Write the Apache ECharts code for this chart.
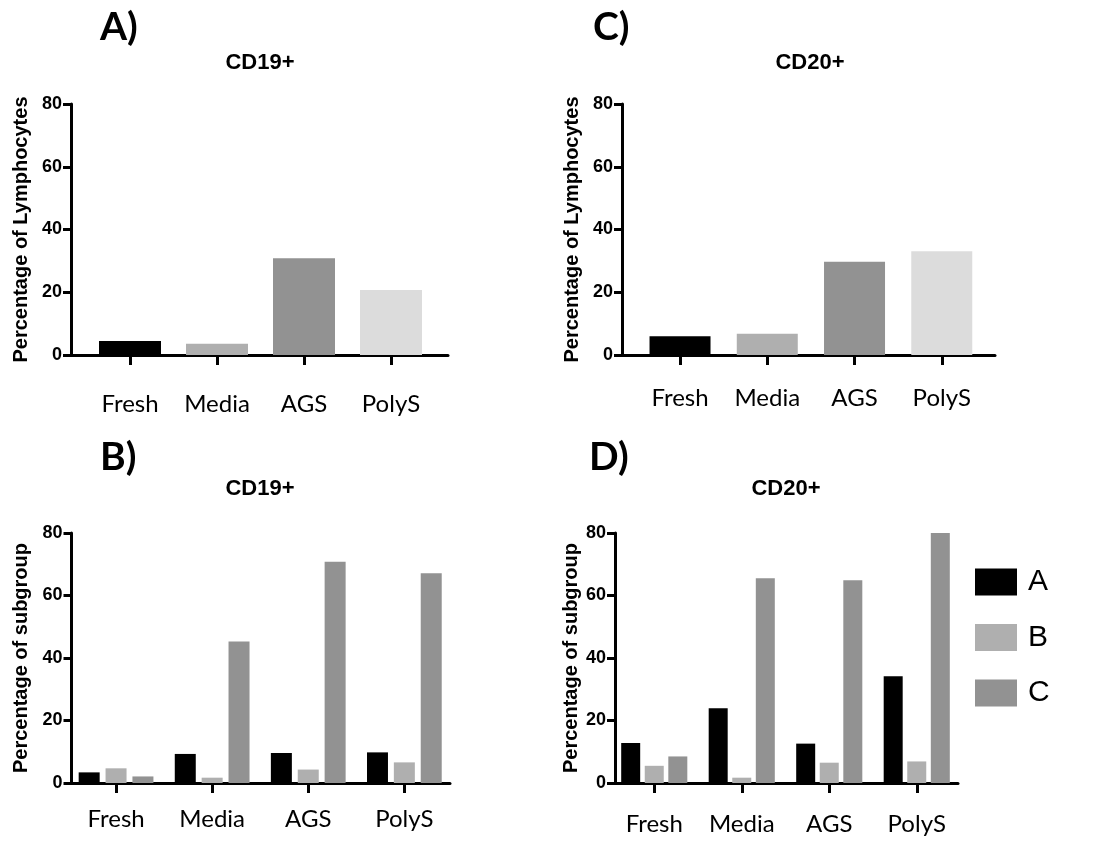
<!DOCTYPE html>
<html>
<head>
<meta charset="utf-8">
<script src="https://cdn.jsdelivr.net/npm/echarts@6/dist/echarts.min.js"></script>
<style>
html,body{margin:0;padding:0;background:#fff;}
#chart{width:1115px;height:842px;}
</style>
</head>
<body>
<div id="chart"></div>
<script>
// ---- data ----
var categories = ['Fresh', 'Media', 'AGS', 'PolyS'];
var cd19Lymph = [4.5, 3.6, 30.8, 20.7];
var cd20Lymph = [6.0, 6.8, 29.7, 33.1];
var cd19A = [3.4, 9.3, 9.6, 9.8];
var cd19B = [4.7, 1.7, 4.3, 6.6];
var cd19C = [2.1, 45.3, 70.8, 67.1];
var cd20A = [12.8, 23.9, 12.6, 34.2];
var cd20B = [5.5, 1.7, 6.5, 6.9];
var cd20C = [8.5, 65.5, 64.9, 80.0];
var groupNames = ['A', 'B', 'C'];
var yMin = 0, yMax = 80, yStep = 20;

// ---- styles ----
var catColors = ['#000000', '#afafaf', '#929292', '#dcdcdc'];
var groupColors = ['#000000', '#afafaf', '#929292'];
var BOLD = '"Liberation Sans", Arial, sans-serif';
var HUM = 'Lato, "Open Sans", sans-serif';

var panels = [
  {letter: 'A)', lx: 100, ly: 8, title: 'CD19+', tx: 260, ty: 52,
   fl: 71, ft: 104, fw: 377, fh: 251, bl: 86.5, bw: 348,
   name: 'Percentage of Lymphocytes', nameGap: 40, labelMargin: 37,
   single: cd19Lymph, barWidth: 62},
  {letter: 'C)', lx: 593, ly: 8, title: 'CD20+', tx: 810, ty: 52,
   fl: 622, ft: 104, fw: 373, fh: 251, bl: 636.4, bw: 349,
   name: 'Percentage of Lymphocytes', nameGap: 40, labelMargin: 31,
   single: cd20Lymph, barWidth: 61},
  {letter: 'B)', lx: 100, ly: 438, title: 'CD19+', tx: 260, ty: 478,
   fl: 71.5, ft: 533, fw: 378.5, fh: 250, bl: 68, bw: 384.4,
   name: 'Percentage of subgroup', nameGap: 40, labelMargin: 24,
   groups: [cd19A, cd19B, cd19C], barWidth: 21, barGap: '28%'},
  {letter: 'D)', lx: 589, ly: 438, title: 'CD20+', tx: 786, ty: 478,
   fl: 615, ft: 533, fw: 343, fh: 250, bl: 610.5, bw: 350,
   name: 'Percentage of subgroup', nameGap: 34, labelMargin: 29,
   groups: [cd20A, cd20B, cd20C], barWidth: 19, barGap: '24%'}
];

var grid = [], xAxis = [], yAxis = [], series = [], title = [];
panels.forEach(function (p, i) {
  var fg = 2 * i, bg = 2 * i + 1;
  grid.push({left: p.fl, top: p.ft, width: p.fw, height: p.fh, containLabel: false});
  grid.push({left: p.bl, top: p.ft, width: p.bw, height: p.fh, containLabel: false});
  // frame axes
  xAxis.push({type: 'value', gridIndex: fg, min: 0, max: 1,
    axisLine: {show: true, onZero: false, lineStyle: {color: '#000', width: 3}},
    axisTick: {show: false}, axisLabel: {show: false}, splitLine: {show: false}});
  yAxis.push({type: 'value', gridIndex: fg, min: yMin, max: yMax, interval: yStep,
    axisLine: {show: true, onZero: false, lineStyle: {color: '#000', width: 3}},
    axisTick: {show: true, length: 8, lineStyle: {color: '#000', width: 3}},
    axisLabel: {color: '#000', fontFamily: BOLD, fontWeight: 'bold', fontSize: 18, margin: 9},
    splitLine: {show: false},
    name: p.name, nameLocation: 'middle', nameGap: p.nameGap, nameRotate: 90,
    nameTextStyle: {color: '#000', fontFamily: BOLD, fontWeight: 'bold', fontSize: 20}});
  // bar axes
  xAxis.push({type: 'category', gridIndex: bg, data: categories,
    axisLine: {show: false},
    axisTick: {show: true, alignWithLabel: true, length: 10, lineStyle: {color: '#000', width: 3}},
    axisLabel: {color: '#000', fontFamily: HUM, fontSize: 24, margin: p.labelMargin},
    splitLine: {show: false}});
  yAxis.push({type: 'value', gridIndex: bg, min: yMin, max: yMax, show: false, splitLine: {show: false}});

  if (p.single) {
    series.push({type: 'bar', xAxisIndex: bg, yAxisIndex: bg, barWidth: p.barWidth,
      data: p.single.map(function (v, k) { return {value: v, itemStyle: {color: catColors[k]}}; }),
      animation: false, silent: true});
  } else {
    p.groups.forEach(function (arr, g) {
      series.push({type: 'bar', name: groupNames[g], xAxisIndex: bg, yAxisIndex: bg,
        barWidth: p.barWidth, barGap: p.barGap, data: arr,
        itemStyle: {color: groupColors[g]}, animation: false, silent: true});
    });
  }
  title.push({text: p.letter, left: p.lx, top: p.ly, padding: 0,
    textStyle: {fontFamily: HUM, fontWeight: 'bold', fontSize: 39, color: '#000'}});
  title.push({text: p.title, left: p.tx, top: p.ty, textAlign: 'center', padding: 0,
    textStyle: {fontFamily: BOLD, fontWeight: 'bold', fontSize: 22, color: '#000'}});
});

var chart = echarts.init(document.getElementById('chart'), null, {renderer: 'canvas'});
chart.setOption({
  backgroundColor: '#ffffff',
  animation: false,
  title: title,
  grid: grid,
  xAxis: xAxis,
  yAxis: yAxis,
  series: series,
  legend: {
    data: groupNames, orient: 'vertical', left: 975, top: 567, padding: 0,
    icon: 'rect', itemWidth: 42, itemHeight: 27, itemGap: 25.5,
    selectedMode: false,
    textStyle: {fontFamily: BOLD, fontSize: 30, color: '#000', padding: [0, 0, 0, 6], lineHeight: 27}
  }
});
</script>
</body>
</html>
